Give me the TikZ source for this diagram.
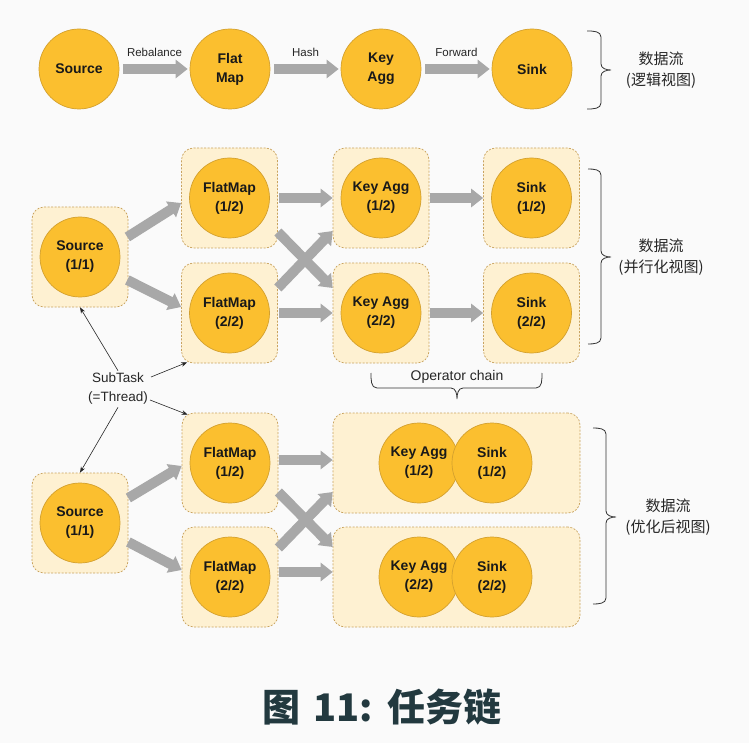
\documentclass[tikz,border=0pt]{standalone}
\usepackage{fontspec}
\setmainfont{Liberation Sans}
\newfontfamily\cjk{Noto Sans CJK SC}
\usetikzlibrary{arrows.meta,calc}
\definecolor{bg}{HTML}{FAFAFA}
\definecolor{circ}{HTML}{FBBF2F}
\definecolor{circd}{HTML}{D3A02E}
\definecolor{boxf}{HTML}{FEF1D2}
\definecolor{boxd}{HTML}{C9A35E}
\definecolor{arr}{HTML}{A8A8A8}
\definecolor{ttl}{HTML}{22393F}
\begin{document}
\begin{tikzpicture}[x=1pt,y=-1pt,
 op/.style={circle,fill=circ,draw=circd,line width=0.7pt,minimum size=80pt,inner sep=0pt,align=center,font=\fontsize{14}{19}\selectfont\bfseries,text=black!90},
 task/.style={rectangle,rounded corners=12pt,fill=boxf,draw=boxd,dash pattern=on 2pt off 1.5pt,line width=0.7pt,minimum width=96pt,minimum height=100pt,inner sep=0pt},
 big/.style={line width=10pt,draw=arr,-{Triangle[width=18pt,length=12pt]}},
 lbl/.style={font=\fontsize{11.5}{13}\selectfont,text=black!85},
 lblb/.style={font=\fontsize{13.5}{19}\selectfont,text=black!85,align=center},
 side/.style={font=\cjk\fontsize{15}{21}\selectfont,align=center,text=black!85},
 brc/.style={draw=black!80,line width=0.8pt},
 thin/.style={-{Stealth[length=6pt,width=4.5pt]},line width=0.6pt,draw=black!85}]
\useasboundingbox (0,0) rectangle (749,743);
\fill[bg] (0,0) rectangle (749,743);

% ---------- logical view ----------
\node[op] (s0) at (79,69) {Source};
\node[op] (f0) at (230,69) {Flat\\Map};
\node[op] (k0) at (381,69) {Key\\Agg};
\node[op] (sk0) at (532,69) {Sink};
\draw[big,shorten <=4pt,shorten >=2pt] (s0) -- node[lbl,above=4pt]{Rebalance} (f0);
\draw[big,shorten <=4pt,shorten >=2pt] (f0) -- node[lbl,above=4pt]{Hash} (k0);
\draw[big,shorten <=4pt,shorten >=2pt] (k0) -- node[lbl,above=4pt]{Forward} (sk0);
\draw[brc] (587,31) to[out=0,in=90] (601,37) -- (601,64) to[out=-90,in=180] (611,70)
  to[out=180,in=90] (601,76) -- (601,103) to[out=-90,in=0] (587,109);
\node[side] (t0) at (661,70) {数据流\\(逻辑视图)};

% ---------- parallel view ----------
\node[task] (srcM) at (80,257) {};
\node[op] (srcMc) at (srcM) {Source\\(1/1)};
\node[task] (fm1M) at (229.5,198) {};
\node[op] (fm1Mc) at (fm1M) {FlatMap\\(1/2)};
\node[task] (fm2M) at (229.5,313) {};
\node[op] (fm2Mc) at (fm2M) {FlatMap\\(2/2)};
\node[task] (ka1M) at (381,198) {};
\node[op] (ka1Mc) at (ka1M) {Key Agg\\(1/2)};
\node[task] (ka2M) at (381,313) {};
\node[op] (ka2Mc) at (ka2M) {Key Agg\\(2/2)};
\node[task] (sk1M) at (531.5,198) {};
\node[op] (sk1Mc) at (sk1M) {Sink\\(1/2)};
\node[task] (sk2M) at (531.5,313) {};
\node[op] (sk2Mc) at (sk2M) {Sink\\(2/2)};

\draw[big] ($(srcM.east)+(-1,-20)$) -- ($(fm1M.west)+(0,5)$);
\draw[big] ($(srcM.east)+(-1,23)$) -- ($(fm2M.west)+(0,-6)$);
\draw[big] ($(fm1M.east)+(1,0)$) -- (ka1M.west);
\draw[big] ($(fm2M.east)+(1,0)$) -- (ka2M.west);
\draw[big] ($(fm1M.east)+(0,34)$) -- ($(ka2M.west)+(0,-25)$);
\draw[big] ($(fm2M.east)+(0,-25)$) -- ($(ka1M.west)+(0,33)$);
\draw[big] ($(ka1M.east)+(1,0)$) -- (sk1M.west);
\draw[big] ($(ka2M.east)+(1,0)$) -- (sk2M.west);

\draw[brc] (588,169) to[out=0,in=90] (601,175) -- (601,251) to[out=-90,in=180] (611,257)
  to[out=180,in=90] (601,263) -- (601,338) to[out=-90,in=0] (588,344);
\node[side] (t1) at (661,257) {数据流\\(并行化视图)};

\node[font=\fontsize{14}{16}\selectfont,text=black!85] (opc) at (457,377) {Operator chain};
\draw[brc] (371,373) to[out=-90,in=180] (377,388) -- (451,388) to[out=0,in=90] (457,399)
  to[out=90,in=180] (463,388) -- (536,388) to[out=0,in=-90] (542,373);

% ---------- subtask ----------
\node[lblb] (sub) at (118,389) {SubTask\\(=Thread)};

% ---------- optimized view ----------
\node[task] (srcB) at (80,523) {};
\node[op] (srcBc) at (srcB) {Source\\(1/1)};
\node[task] (fm1B) at (230,463) {};
\node[op] (fm1Bc) at (fm1B) {FlatMap\\(1/2)};
\node[task] (fm2B) at (230,577) {};
\node[op] (fm2Bc) at (fm2B) {FlatMap\\(2/2)};
\node[task,minimum width=247pt] (big1) at (456.5,463) {};
\node[op] (ka1B) at ($(big1)+(-37.5,0)$) {Key Agg\\(1/2)};
\node[op] (sk1B) at ($(big1)+(35.5,0)$) {Sink\\(1/2)};
\node[task,minimum width=247pt] (big2) at (456.5,577) {};
\node[op] (ka2B) at ($(big2)+(-37.5,0)$) {Key Agg\\(2/2)};
\node[op] (sk2B) at ($(big2)+(35.5,0)$) {Sink\\(2/2)};

\draw[big] ($(srcB.east)+(0,-25)$) -- ($(fm1B.west)+(0,3)$);
\draw[big] ($(srcB.east)+(0,19)$) -- ($(fm2B.west)+(0,-7)$);
\draw[big] ($(fm1B.east)+(1,-3)$) -- ($(big1.west)+(0,-3)$);
\draw[big] ($(fm2B.east)+(1,-5)$) -- ($(big2.west)+(0,-5)$);
\draw[big] ($(fm1B.east)+(0,29)$) -- ($(big2.west)+(0,-30)$);
\draw[big] ($(fm2B.east)+(0,-29)$) -- ($(big1.west)+(0,29)$);

\draw[brc] (593,428) to[out=0,in=90] (606,434) -- (606,511) to[out=-90,in=180] (616,517)
  to[out=180,in=90] (606,523) -- (606,598) to[out=-90,in=0] (593,604);
\node[side] (t2) at (668,517) {数据流\\(优化后视图)};

% subtask arrows
\draw[thin] ($(sub.north)+(0,1)$) -- (srcM.south);
\draw[thin] ($(sub.center)+(33,-12)$) -- ($(fm2M.south west)+(6,-1)$);
\draw[thin] ($(sub.center)+(32,11)$) -- ($(fm1B.north west)+(6,2)$);
\draw[thin] ($(sub.south)+(0,-1)$) -- (srcB.north);

% ---------- title ----------
\node[font=\cjk\bfseries\fontsize{38}{42}\selectfont,text=ttl] (title) at (382,707) {图\hspace{13pt}11:\hspace{14pt}任务链};
\end{tikzpicture}
\end{document}
